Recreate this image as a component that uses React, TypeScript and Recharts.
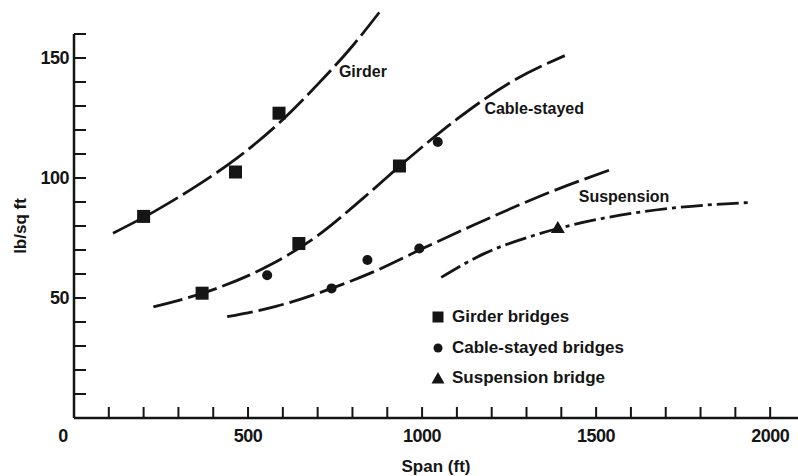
import { ComposedChart, Line, Scatter, XAxis, YAxis, ReferenceLine, ReferenceDot, Legend } from 'recharts'

// dashed fitted curves, values in ft / lb per sq ft
const girderCurve = [
  { span: 112, load: 77 },
  { span: 230, load: 86 },
  { span: 350, load: 96.5 },
  { span: 470, load: 108.5 },
  { span: 590, load: 123 },
  { span: 700, load: 139 },
  { span: 800, load: 155 },
  { span: 877, load: 169 },
]

const cableCurve = [
  { span: 228, load: 46.3 },
  { span: 400, load: 53.5 },
  { span: 560, load: 63.5 },
  { span: 700, load: 76 },
  { span: 830, load: 91.5 },
  { span: 960, load: 108 },
  { span: 1100, load: 124.5 },
  { span: 1250, load: 139.5 },
  { span: 1410, load: 151 },
]

const midCurve = [
  { span: 440, load: 42.2 },
  { span: 580, load: 46.5 },
  { span: 740, load: 54 },
  { span: 870, load: 61.5 },
  { span: 1000, load: 70.5 },
  { span: 1150, load: 80.5 },
  { span: 1340, load: 92.5 },
  { span: 1552, load: 104 },
]

const suspensionCurve = [
  { span: 1055, load: 58.6 },
  { span: 1180, load: 68.6 },
  { span: 1324, load: 76.2 },
  { span: 1516, load: 83.1 },
  { span: 1708, load: 87.3 },
  { span: 1939, load: 89.8 },
]

// measured bridges
const girderBridges = [
  { span: 200, load: 84 },
  { span: 464, load: 102.5 },
  { span: 589, load: 127 },
  { span: 368, load: 52 },
  { span: 646, load: 72.7 },
  { span: 935, load: 105 },
]

const cableStayedBridges = [
  { span: 555, load: 59.5 },
  { span: 740, load: 54 },
  { span: 843, load: 65.8 },
  { span: 992, load: 70.6 },
  { span: 1045, load: 115 },
]

const suspensionBridges = [{ span: 1390, load: 79.2 }]

const curveLabels = [
  { text: 'Girder', span: 761, load: 144.2 },
  { text: 'Cable-stayed', span: 1179, load: 128.9 },
  { text: 'Suspension', span: 1450, load: 92.1 },
]

const xTicks = [0, 100, 200, 300, 400, 500, 600, 700, 800, 900, 1000, 1100, 1200, 1300, 1400, 1500, 1600, 1700, 1800, 1900, 2000]
const yTicks = [10, 20, 30, 40, 50, 60, 70, 80, 90, 100, 110, 120, 130, 140, 150, 160]
const xLabels = [0, 500, 1000, 1500, 2000]
const yLabels = [50, 100, 150]

const INK = '#151515'
const FONT = "'Liberation Sans', Arial, sans-serif"

const XTick = ({ x, y, payload }: any) => (
  <g>
    {payload.value > 0 && <line x1={x} x2={x} y1={y} y2={y - 11} stroke={INK} strokeWidth={2} />}
    {xLabels.includes(payload.value) && (
      <text
        x={payload.value === 0 ? x - 11 : x}
        y={y + 24}
        textAnchor="middle"
        fontSize={18}
        fontWeight="bold"
        fontFamily={FONT}
        fill={INK}
        letterSpacing={-0.5}
      >
        {payload.value}
      </text>
    )}
  </g>
)

const YTick = ({ x, y, payload }: any) => (
  <g>
    <line x1={x} x2={x + 12} y1={y} y2={y} stroke={INK} strokeWidth={2} />
    {yLabels.includes(payload.value) && (
      <text x={x - 5} y={y + 6} textAnchor="end" fontSize={18} fontWeight="bold" fontFamily={FONT} fill={INK} letterSpacing={-0.5}>
        {payload.value}
      </text>
    )}
  </g>
)

const SquareMark = ({ cx, cy }: any) => <rect x={cx - 6.5} y={cy - 6.5} width={13} height={13} fill={INK} />
const DotMark = ({ cx, cy }: any) => <circle cx={cx} cy={cy} r={5} fill={INK} />
const TriangleMark = ({ cx, cy }: any) => (
  <polygon points={`${cx},${cy - 7} ${cx + 7},${cy + 5} ${cx - 7},${cy + 5}`} fill={INK} />
)

const legendItems = [
  { label: 'Girder bridges', kind: 'square' },
  { label: 'Cable-stayed bridges', kind: 'circle' },
  { label: 'Suspension bridge', kind: 'triangle' },
]

const renderLegend = () => (
  <div style={{ fontFamily: FONT, fontWeight: 'bold', fontSize: 17, color: INK }}>
    {legendItems.map((item) => (
      <div key={item.label} style={{ height: 30.5, display: 'flex', alignItems: 'center', whiteSpace: 'nowrap' }}>
        <svg width={14} height={14} style={{ marginRight: 7 }}>
          {item.kind === 'square' && <rect x={1.5} y={1.5} width={11} height={11} fill={INK} />}
          {item.kind === 'circle' && <circle cx={7} cy={7} r={4.5} fill={INK} />}
          {item.kind === 'triangle' && <polygon points="7,1 13.5,12.5 0.5,12.5" fill={INK} />}
        </svg>
        <span>{item.label}</span>
      </div>
    ))}
  </div>
)

export default function App() {
  return (
    <div style={{ position: 'absolute', left: 0, top: 0, background: '#fff' }}>
      <ComposedChart width={798} height={476} margin={{ top: 10, right: 0, bottom: 0, left: 0 }}>
        <XAxis
          type="number"
          dataKey="span"
          domain={[0, 2080]}
          ticks={xTicks}
          interval={0}
          height={58}
          tickSize={0}
          tickMargin={0}
          tickLine={false}
          axisLine={{ stroke: INK, strokeWidth: 2.5 }}
          tick={<XTick />}
          label={{ value: 'Span (ft)', position: 'insideBottom', offset: 4, fontSize: 17, fontWeight: 'bold', fontFamily: FONT, fill: INK }}
        />
        <YAxis
          type="number"
          dataKey="load"
          domain={[0, 170]}
          ticks={yTicks}
          interval={0}
          width={74}
          tickSize={0}
          tickMargin={0}
          tickLine={false}
          axisLine={false}
          tick={<YTick />}
          label={() => (
            <text x={20} y={226} transform="rotate(-90 20 226)" textAnchor="middle" dominantBaseline="central" fontSize={17} fontWeight="bold" fontFamily={FONT} fill={INK}>
              lb/sq ft
            </text>
          )}
        />
        <ReferenceLine segment={[{ x: 0, y: 0 }, { x: 0, y: 160 }]} stroke={INK} strokeWidth={2.5} />

        <Line data={girderCurve} dataKey="load" type="monotone" stroke={INK} strokeWidth={2.8} strokeDasharray="34 6" dot={false} activeDot={false} isAnimationActive={false} />
        <Line data={cableCurve} dataKey="load" type="monotone" stroke={INK} strokeWidth={2.8} strokeDasharray="30 6" dot={false} activeDot={false} isAnimationActive={false} />
        <Line data={midCurve} dataKey="load" type="monotone" stroke={INK} strokeWidth={2.8} strokeDasharray="26 6" dot={false} activeDot={false} isAnimationActive={false} />
        <Line data={suspensionCurve} dataKey="load" type="monotone" stroke={INK} strokeWidth={2.8} strokeDasharray="22 5 4 5" dot={false} activeDot={false} isAnimationActive={false} />

        <Scatter data={girderBridges} dataKey="load" shape={<SquareMark />} isAnimationActive={false} />
        <Scatter data={cableStayedBridges} dataKey="load" shape={<DotMark />} isAnimationActive={false} />
        <Scatter data={suspensionBridges} dataKey="load" shape={<TriangleMark />} isAnimationActive={false} />

        {curveLabels.map((l) => (
          <ReferenceDot
            key={l.text}
            x={l.span}
            y={l.load}
            shape={(p: any) => (
              <text x={p.cx} y={p.cy} dominantBaseline="central" fontSize={16} fontWeight="bold" fontFamily={FONT} fill={INK}>
                {l.text}
              </text>
            )}
          />
        ))}

        <Legend layout="vertical" align="center" verticalAlign="middle" wrapperStyle={{ left: 431, top: 302, width: 'auto' }} content={renderLegend} />
      </ComposedChart>
    </div>
  )
}
